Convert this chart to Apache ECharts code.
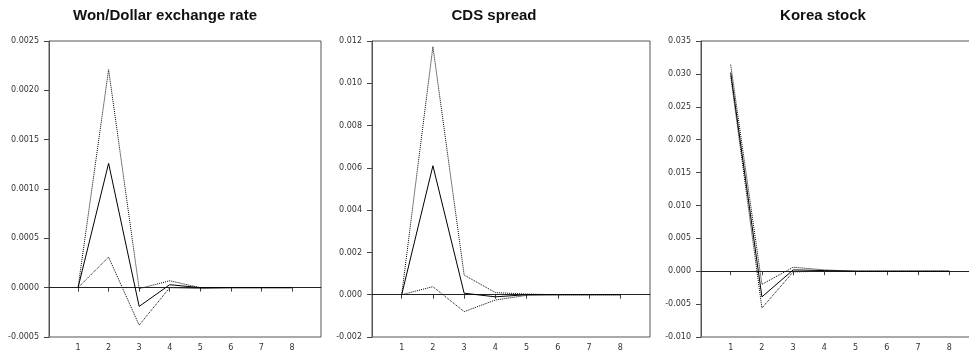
<!DOCTYPE html>
<html>
<head>
<meta charset="utf-8">
<script src="https://cdn.jsdelivr.net/npm/echarts@6/dist/echarts.min.js"></script>
<style>
  html, body { margin: 0; padding: 0; background: #fff; }
  #chart { width: 969px; height: 355px; }
</style>
</head>
<body>
<div id="chart"></div>
<script>
// horizon (periods)
const periods = [1, 2, 3, 4, 5, 6, 7, 8];

// Won/Dollar exchange rate
const wonIrf   = [0, 0.00126, -0.00019, 0.00003, 0.0, 0.0, 0.0, 0.0];
const wonUpper = [0, 0.00221, -0.00001, 0.00007, 0.0, 0.0, 0.0, 0.0];
const wonLower = [0, 0.00031, -0.00038, 0.0, -0.00001, 0.0, 0.0, 0.0];

// CDS spread
const cdsIrf   = [0, 0.0061, 0.00007, -0.0001, 0.0, 0.0, 0.0, 0.0];
const cdsUpper = [0, 0.01173, 0.00093, 0.0001, 0.00003, 0.0, 0.0, 0.0];
const cdsLower = [0, 0.00038, -0.0008, -0.00025, -0.00003, 0.0, 0.0, 0.0];

// Korea stock
const kospiIrf   = [0.0302, -0.0039, 0.0002, 0.0001, 0.0, 0.0, 0.0, 0.0];
const kospiUpper = [0.0314, -0.0020, 0.0006, 0.0002, 0.0, 0.0, 0.0, 0.0];
const kospiLower = [0.0297, -0.0056, -0.0001, 0.0, 0.0, 0.0, 0.0, 0.0];

const titles = ["Won/Dollar exchange rate", "CDS spread", "Korea stock"];
const yMins = [-0.0005, -0.002, -0.01];
const yMaxs = [0.0025, 0.012, 0.035];
const ySteps = [0.0005, 0.002, 0.005];
const yDecimals = [4, 3, 3];

const panels = [
  { irf: wonIrf, upper: wonUpper, lower: wonLower },
  { irf: cdsIrf, upper: cdsUpper, lower: cdsLower },
  { irf: kospiIrf, upper: kospiUpper, lower: kospiLower },
];

// layout in px (last panel runs past the right edge, like the source)
const gridLefts = [49, 372, 701];
const gridWidths = [272, 278, 278];
const titleCenters = [165, 494, 823];

const toPairs = (vals) => periods.map((p, i) => [p, vals[i]]);

const chart = echarts.init(document.getElementById("chart"));

const grid = [], xAxis = [], yAxis = [], series = [], title = [];

panels.forEach((pn, k) => {
  title.push({
    text: titles[k],
    left: titleCenters[k],
    top: 8,
    padding: 0,
    textAlign: "center",
    textStyle: {
      fontFamily: "Liberation Sans, Arial, sans-serif",
      fontSize: 15,
      fontWeight: "bold",
      color: "#111",
    },
  });
  grid.push({
    left: gridLefts[k],
    top: 41,
    width: gridWidths[k],
    height: 296,
    show: true,
    borderColor: "#555",
    borderWidth: 1,
    containLabel: false,
    outerBoundsMode: "none",
  });
  xAxis.push({
    type: "value",
    gridIndex: k,
    min: 0.05,
    max: 8.95,
    splitLine: { show: false },
    axisLine: { lineStyle: { color: "#555", width: 1 } },
    axisTick: { customValues: periods, length: 4, lineStyle: { color: "#444" } },
    axisLabel: {
      customValues: periods,
      margin: 7,
      fontFamily: "DejaVu Sans, sans-serif",
      fontSize: 8,
      color: "#333",
    },
  });
  yAxis.push({
    type: "value",
    gridIndex: k,
    min: yMins[k],
    max: yMaxs[k],
    interval: ySteps[k],
    splitLine: { show: false },
    axisLine: { show: true, lineStyle: { color: "#555", width: 1 } },
    axisTick: { length: 5, lineStyle: { color: "#444" } },
    axisLabel: {
      margin: 10,
      fontFamily: "DejaVu Sans, sans-serif",
      fontSize: 8,
      color: "#333",
      formatter: (v) => v.toFixed(yDecimals[k]),
    },
  });
  series.push({
    type: "line",
    xAxisIndex: k,
    yAxisIndex: k,
    data: toPairs(pn.irf),
    symbol: "none",
    z: 5,
    lineStyle: { color: "#000", width: 1, type: "solid" },
    markLine: {
      silent: true,
      symbol: "none",
      label: { show: false },
      lineStyle: { color: "#222", width: 1, type: "solid" },
      data: [{ yAxis: 0 }],
    },
  });
  [pn.upper, pn.lower].forEach((band) => {
    series.push({
      type: "line",
      xAxisIndex: k,
      yAxisIndex: k,
      data: toPairs(band),
      symbol: "none",
      lineStyle: { color: "#000", width: 1, type: [1, 1] },
    });
  });
});

chart.setOption({
  animation: false,
  backgroundColor: "#fff",
  title,
  grid,
  xAxis,
  yAxis,
  series,
});

window.addEventListener("resize", () => chart.resize());
</script>
</body>
</html>
